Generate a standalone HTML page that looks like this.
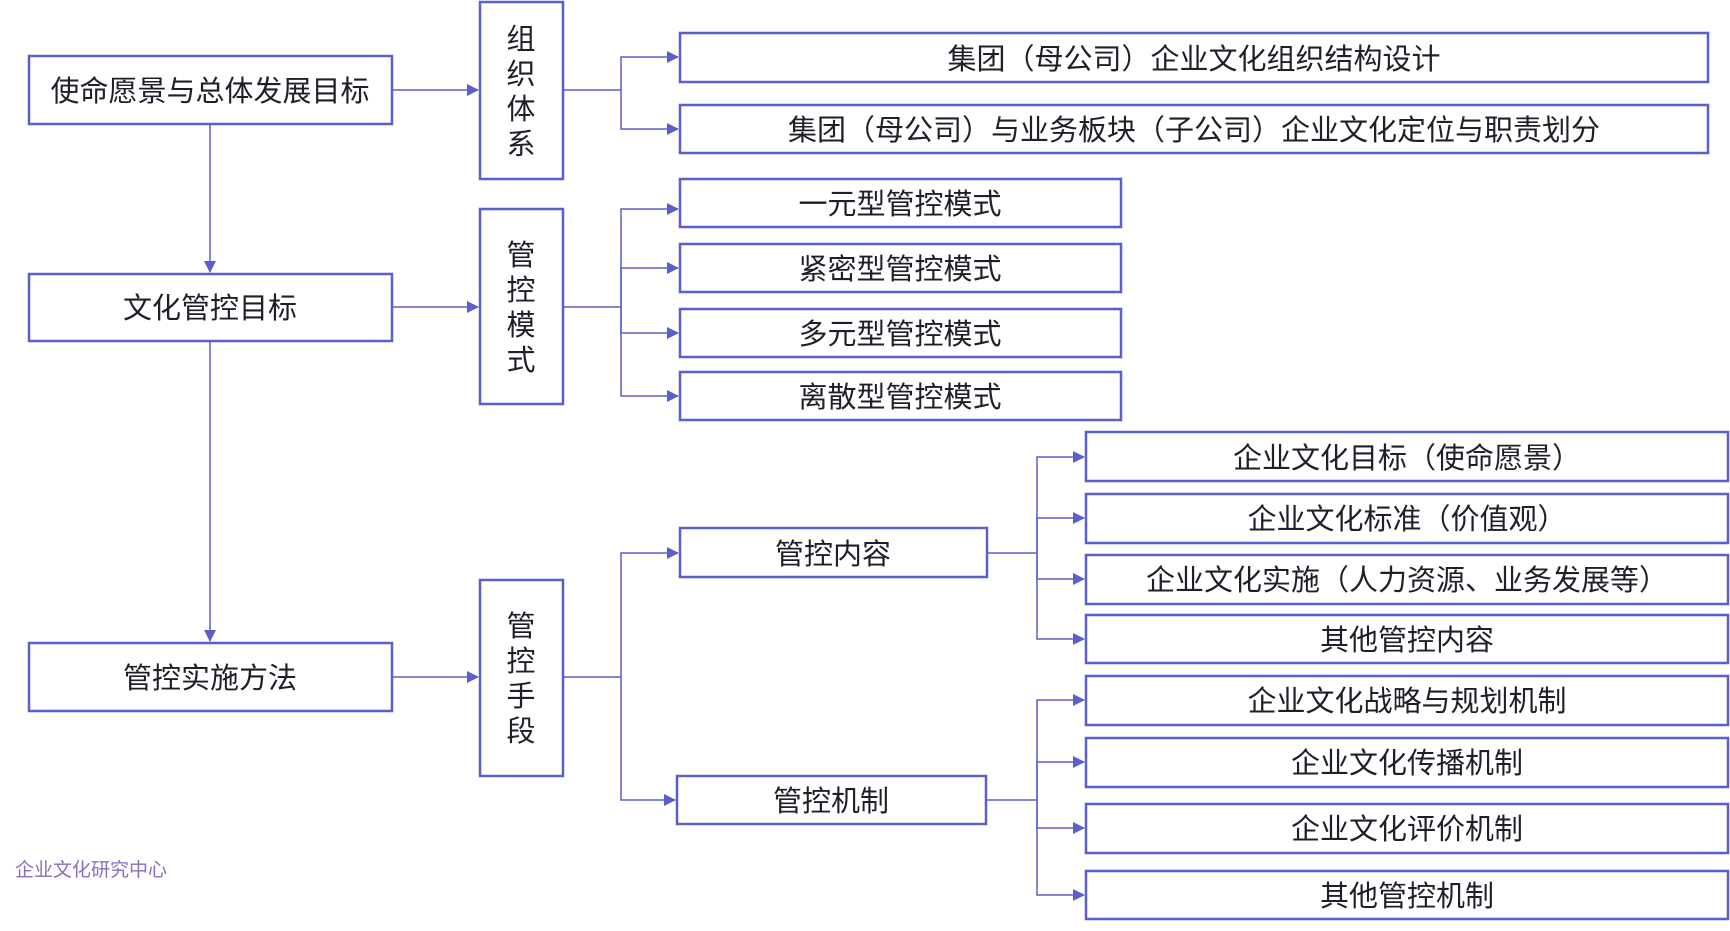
<!DOCTYPE html>
<html><head><meta charset="utf-8"><style>
body{margin:0;background:#fff}
svg{display:block}
text{font-family:"Liberation Sans","Noto Sans CJK SC",sans-serif;fill:#1f1f2a;}
</style></head><body>
<svg width="1730" height="931" xmlns="http://www.w3.org/2000/svg">
<defs><marker id="a" markerWidth="12" markerHeight="12" refX="11" refY="6" orient="auto" markerUnits="userSpaceOnUse"><path d="M0,0 L12,6 L0,12 z" fill="#5a5fcc"/></marker></defs>
<g fill="none" stroke="#5a5fcc" stroke-width="2.5">
<rect x="29" y="56" width="363" height="68"/>
<rect x="29" y="274" width="363" height="67"/>
<rect x="29" y="643" width="363" height="68"/>
<rect x="480" y="2" width="83" height="177"/>
<rect x="480" y="209" width="83" height="195"/>
<rect x="480" y="580" width="83" height="196"/>
<rect x="680" y="33" width="1028" height="49"/>
<rect x="680" y="105" width="1028" height="48"/>
<rect x="680" y="179" width="441" height="48"/>
<rect x="680" y="244" width="441" height="48"/>
<rect x="680" y="309" width="441" height="48"/>
<rect x="680" y="372" width="441" height="48"/>
<rect x="680" y="528" width="307" height="49"/>
<rect x="677" y="776" width="309" height="48"/>
<rect x="1086" y="432" width="642" height="49"/>
<rect x="1086" y="494" width="642" height="49"/>
<rect x="1086" y="555" width="642" height="49"/>
<rect x="1086" y="615" width="642" height="48"/>
<rect x="1086" y="676" width="642" height="49"/>
<rect x="1086" y="738" width="642" height="49"/>
<rect x="1086" y="804" width="642" height="49"/>
<rect x="1086" y="871" width="642" height="48"/>
</g>
<g fill="none" stroke="#5a5fcc" stroke-width="1.5" marker-end="url(#a)">
<path d="M210,124 V272"/>
<path d="M210,341 V641"/>
<path d="M392,90 H478"/>
<path d="M392,307 H478"/>
<path d="M392,677 H478"/>
<path d="M621,90 V57 H678"/>
<path d="M621,90 V129 H678"/>
<path d="M621,307 V209 H678"/>
<path d="M621,307 V268 H678"/>
<path d="M621,307 V333 H678"/>
<path d="M621,307 V396 H678"/>
<path d="M621,677 V553 H678"/>
<path d="M621,677 V800 H675"/>
<path d="M1037,553 V457 H1084"/>
<path d="M1037,553 V518 H1084"/>
<path d="M1037,553 V579 H1084"/>
<path d="M1037,553 V639 H1084"/>
<path d="M1037,800 V700 H1084"/>
<path d="M1037,800 V762 H1084"/>
<path d="M1037,800 V828 H1084"/>
<path d="M1037,800 V895 H1084"/>
</g>
<g fill="none" stroke="#5a5fcc" stroke-width="1.5">
<path d="M563,90 H621"/><path d="M563,307 H621"/><path d="M563,677 H621"/>
<path d="M987,553 H1037"/><path d="M986,800 H1037"/>
</g>
<g font-size="29" text-anchor="middle" dominant-baseline="central" transform="translate(0,2)">
<text x="210" y="90">使命愿景与总体发展目标</text>
<text x="210" y="307">文化管控目标</text>
<text x="210" y="677">管控实施方法</text>
<text x="521" y="38">组</text><text x="521" y="73">织</text><text x="521" y="108">体</text><text x="521" y="143">系</text>
<text x="521" y="254">管</text><text x="521" y="289">控</text><text x="521" y="324">模</text><text x="521" y="359">式</text>
<text x="521" y="625">管</text><text x="521" y="660">控</text><text x="521" y="695">手</text><text x="521" y="730">段</text>
<text x="1194" y="58">集团（母公司）企业文化组织结构设计</text>
<text x="1194" y="129">集团（母公司）与业务板块（子公司）企业文化定位与职责划分</text>
<text x="900" y="203">一元型管控模式</text>
<text x="900" y="268">紧密型管控模式</text>
<text x="900" y="333">多元型管控模式</text>
<text x="900" y="396">离散型管控模式</text>
<text x="833" y="553">管控内容</text>
<text x="831" y="800">管控机制</text>
<text x="1407" y="457">企业文化目标（使命愿景）</text>
<text x="1407" y="518">企业文化标准（价值观）</text>
<text x="1407" y="579">企业文化实施（人力资源、业务发展等）</text>
<text x="1407" y="639">其他管控内容</text>
<text x="1407" y="700">企业文化战略与规划机制</text>
<text x="1407" y="762">企业文化传播机制</text>
<text x="1407" y="828">企业文化评价机制</text>
<text x="1407" y="895">其他管控机制</text>
</g>
<text x="15" y="876" font-size="19" style="fill:#8a6cc0">企业文化研究中心</text>
</svg>
</body></html>
